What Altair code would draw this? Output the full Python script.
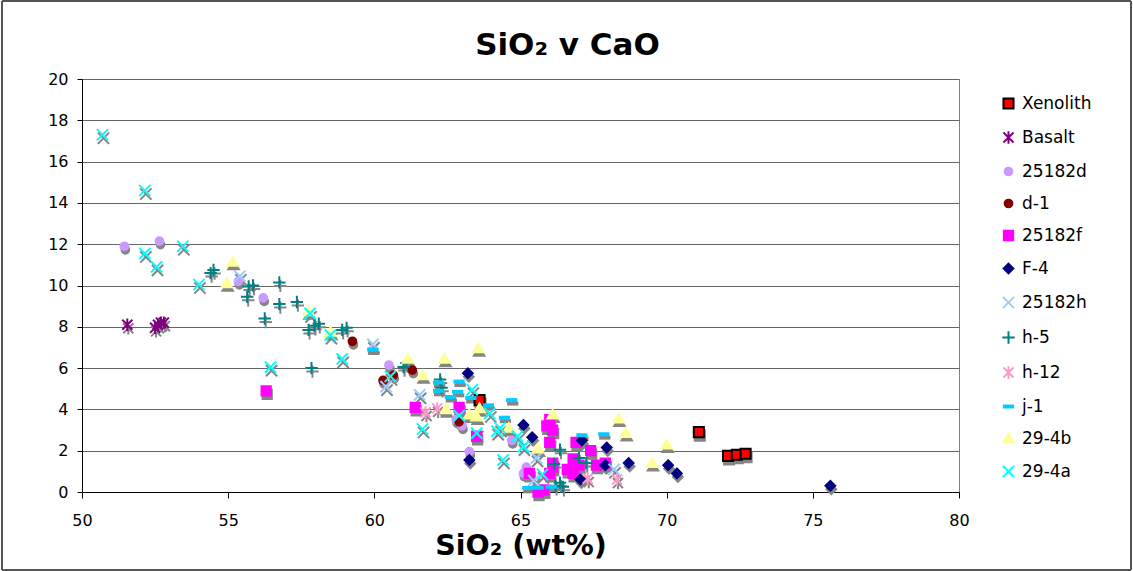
import altair as alt
import pandas as pd

# --- data: SiO2 (wt%) and CaO (wt%) per sample group ---
series_names = ["Xenolith", "Basalt", "25182d", "d-1", "25182f", "F-4",
                "25182h", "h-5", "h-12", "j-1", "29-4b", "29-4a"]

xenolith_x = [63.6, 71.1, 72.1, 72.4, 72.7]
xenolith_y = [4.45, 2.9, 1.75, 1.8, 1.85]

basalt_x = [51.55, 52.5, 52.6, 52.7, 52.8]
basalt_y = [8.1, 7.95, 8.1, 8.2, 8.2]

s25182d_x = [51.45, 52.65, 55.35, 56.2, 60.5, 62.8, 63.0, 63.25, 64.7, 65.2, 65.1]
s25182d_y = [11.9, 12.15, 10.2, 9.4, 6.15, 3.5, 3.2, 1.95, 2.5, 1.2, 0.9]

d1_x = [59.25, 60.3, 60.65, 61.3, 62.9]
d1_y = [7.3, 5.4, 5.65, 5.9, 3.4]

s25182f_x = [56.3, 61.4, 62.9, 63.5, 65.3, 65.6, 65.8, 65.9, 66.0, 66.0, 66.1, 66.0,
             66.1, 66.6, 66.8, 66.9, 67.0, 67.4, 67.6, 67.9, 66.1, 66.8]
s25182f_y = [4.9, 4.1, 4.1, 2.7, 0.9, 0.0, 0.1, 3.2, 3.5, 2.4, 1.4, 0.9,
             1.2, 1.1, 0.9, 2.4, 1.3, 2.0, 1.3, 1.4, 3.0, 1.6]

f4_x = [63.2, 63.25, 65.1, 65.4, 67.1, 67.95, 67.9, 67.05, 68.7, 70.05, 70.35, 75.6]
f4_y = [5.75, 1.55, 3.25, 2.65, 2.5, 2.15, 1.3, 0.6, 1.4, 1.3, 0.9, 0.3]

s25182h_x = [55.4, 59.95, 60.4, 61.55, 65.55, 65.45, 68.2]
s25182h_y = [10.45, 7.15, 5.1, 4.7, 1.65, 0.55, 1.1]

h5_x = [54.4, 54.5, 55.7, 55.85, 55.65, 56.25, 56.75, 56.75, 57.35, 57.75, 57.95, 58.1,
        58.9, 59.05, 57.85, 61.1, 61.0, 62.25, 62.3, 66.35, 66.15, 67.0, 67.25, 66.35,
        66.45, 66.2]
h5_y = [10.6, 10.75, 9.95, 10.0, 9.45, 8.4, 10.15, 9.1, 9.2, 7.85, 8.05, 8.15,
        7.85, 7.95, 6.0, 6.25, 6.05, 5.45, 5.05, 2.05, 1.35, 1.65, 1.4, 0.45,
        0.25, 0.3]

h12_x = [61.75, 62.15, 67.3, 68.3]
h12_y = [3.85, 4.05, 0.65, 0.6]

j1_x = [59.95, 62.2, 62.2, 62.9, 62.85, 62.6, 63.3, 63.9, 64.7, 64.45, 67.1, 67.85,
        65.25, 65.6, 66.05]
j1_y = [6.9, 5.3, 4.9, 5.35, 4.85, 4.6, 4.55, 4.2, 4.45, 3.6, 2.75, 2.8,
        0.2, 0.2, 0.25]

s294b_x = [54.95, 55.15, 57.75, 58.5, 61.15, 62.4, 63.55, 61.65, 62.45, 63.25, 63.6,
           63.5, 64.6, 65.6, 66.1, 68.35, 68.6, 69.5, 70.0]
s294b_y = [10.1, 11.15, 8.75, 7.75, 6.45, 6.45, 6.95, 5.65, 4.0, 3.75, 4.05,
           3.65, 3.1, 2.1, 3.75, 3.55, 2.85, 1.4, 2.3]

s294a_x = [50.7, 52.15, 52.15, 52.55, 53.45, 54.0, 57.8, 58.5, 56.45, 58.9, 60.55,
           61.65, 62.9, 63.35, 63.5, 63.95, 64.2, 64.3, 64.4, 64.9, 65.1, 65.75]
s294a_y = [17.3, 14.6, 11.55, 10.9, 11.9, 10.05, 8.65, 7.6, 6.05, 6.45, 5.6,
           3.05, 3.7, 4.95, 2.85, 3.8, 2.95, 3.1, 1.55, 2.7, 2.2, 0.85]

series_values = [
    (xenolith_x, xenolith_y), (basalt_x, basalt_y), (s25182d_x, s25182d_y),
    (d1_x, d1_y), (s25182f_x, s25182f_y), (f4_x, f4_y), (s25182h_x, s25182h_y),
    (h5_x, h5_y), (h12_x, h12_y), (j1_x, j1_y), (s294b_x, s294b_y), (s294a_x, s294a_y),
]

rows = []
for name, (xs, ys) in zip(series_names, series_values):
    for xv, yv in zip(xs, ys):
        rows.append({"series": name, "sio2": xv, "cao": yv})
df = pd.DataFrame(rows)

# --- marker styles ---
SQUARE = "M-1.2,-1.2L1.2,-1.2L1.2,1.2L-1.2,1.2Z"
BIG_SQUARE = "M-1.3,-1.3L1.3,-1.3L1.3,1.3L-1.3,1.3Z"
STAR = "M-1.3,-1.3L1.3,1.3M-1.3,1.3L1.3,-1.3M0,-1.6L0,1.6"
XMARK = "M-1.45,-1.45L1.45,1.45M-1.45,1.45L1.45,-1.45"
PLUS = "M-1.6,0L1.6,0M0,-1.6L0,1.6"
DASH = "M-1.2,-0.25L1.2,-0.25L1.2,0.25L-1.2,0.25Z"
TRIANGLE = "M0,-1.25L1.35,1.0L-1.35,1.0Z"
DIAMOND = "M0,-1.25L1.25,0L0,1.25L-1.25,0Z"

shape_range = [BIG_SQUARE, STAR, "circle", "circle", SQUARE, DIAMOND,
               XMARK, PLUS, STAR, DASH, TRIANGLE, XMARK]
fill_range = ["#FF0000", "#800080", "#CC99FF", "#800000", "#FF00FF", "#000080",
              "#99CCFF", "#008080", "#FF99CC", "#00CCFF", "#FFFF99", "#00FFFF"]
stroke_range = ["#000000", "#800080", "#CC99FF", "#800000", "#FF00FF", "#000080",
                "#99CCFF", "#008080", "#FF99CC", "#00CCFF", "#FFFF99", "#00FFFF"]

FONT = "DejaVu Sans"
SHADOW = "#858585"

x_axis = alt.Axis(values=[50, 55, 60, 65, 70, 75, 80], title="SiO₂ (wt%)",
                  grid=False, tickSize=6, labelPadding=14, labelFlush=False,
                  titleFontSize=28.5, titleFontWeight="bold", titleFont=FONT,
                  titleBaseline="alphabetic", titleY=62, titleColor="#000000")
y_axis = alt.Axis(values=list(range(0, 21, 2)), title=None, grid=True, tickSize=5,
                  labelPadding=9, labelFlush=False)

x_enc = alt.X("sio2:Q", scale=alt.Scale(domain=[50, 80], nice=False, zero=False), axis=x_axis)
y_enc = alt.Y("cao:Q", scale=alt.Scale(domain=[0, 20], nice=False), axis=y_axis)

legend = alt.Legend(title=None, orient="none", legendX=918, legendY=16,
                    labelFontSize=17, labelFont=FONT, labelColor="#000000",
                    rowPadding=14, symbolSize=60, symbolStrokeWidth=2,
                    symbolOpacity=1, labelOffset=5, padding=0)

# drop shadow behind every marker, one layer per series
shadows = [
    alt.Chart(df).transform_filter(alt.datum.series == name).mark_point(
        shape=shape, filled=True, fill=SHADOW, stroke=SHADOW, strokeWidth=2,
        size=60, opacity=1, xOffset=1, yOffset=3.5,
    ).encode(x=x_enc, y=y_enc)
    for name, shape in zip(series_names, shape_range)
]

points = alt.Chart(df).mark_point(filled=True, size=60, strokeWidth=2, opacity=1).encode(
    x=x_enc, y=y_enc,
    shape=alt.Shape("series:N", scale=alt.Scale(domain=series_names, range=shape_range), legend=legend),
    fill=alt.Fill("series:N", scale=alt.Scale(domain=series_names, range=fill_range), legend=legend),
    stroke=alt.Stroke("series:N", scale=alt.Scale(domain=series_names, range=stroke_range), legend=legend),
)

# outer chart frame
frame = alt.Chart(df).mark_rect(fill=None, stroke="#555555", strokeWidth=1).encode(
    x=alt.value(-80), x2=alt.value(1049), y=alt.value(-78), y2=alt.value(491)
)

chart = alt.layer(frame, *shadows, points).properties(
    width=877, height=413,
    padding={"left": 82, "top": 79, "right": 174, "bottom": 79},
    autosize=alt.AutoSizeParams(type="none"),
    background="#FFFFFF",
    title=alt.TitleParams(text="SiO₂ v CaO", fontSize=31, font=FONT, fontWeight="bold",
                          anchor="middle", frame="group", dx=47, offset=-85,
                          baseline="alphabetic", color="#000000"),
).configure_axis(
    labelFont=FONT, labelFontSize=16, labelColor="#000000",
    domainColor="#000000", tickColor="#000000", gridColor="#666666", gridWidth=1,
).configure_view(
    stroke="#808080", strokeWidth=1
)

chart.save("out.html", embed_options={"renderer": "svg", "actions": False})
